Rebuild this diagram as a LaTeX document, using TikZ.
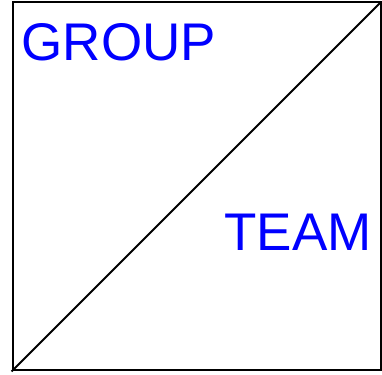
\documentclass[tikz,border=0pt]{standalone}
\usepackage{fontspec}
\setmainfont{Liberation Sans}
\usetikzlibrary{positioning}

\begin{document}
\begin{tikzpicture}[
x=1pt, y=1pt,
frame/.style={draw, line width=2pt, minimum width=368pt, minimum height=368pt, inner sep=0pt},
label/.style={text=blue, inner sep=0pt, font=\fontsize{53}{53}\selectfont}
]
\useasboundingbox (0,0) rectangle (382,374);
\node[frame] (cell) at (196.5,187.5) {};
\node[label, anchor=base west] (group) at (21.5,313) {GROUP};
\node[label, anchor=base east] (team) at (372,123) {TEAM};

\draw[line width=2pt] (cell.south west) -- (cell.north east);
\end{tikzpicture}
\end{document}
